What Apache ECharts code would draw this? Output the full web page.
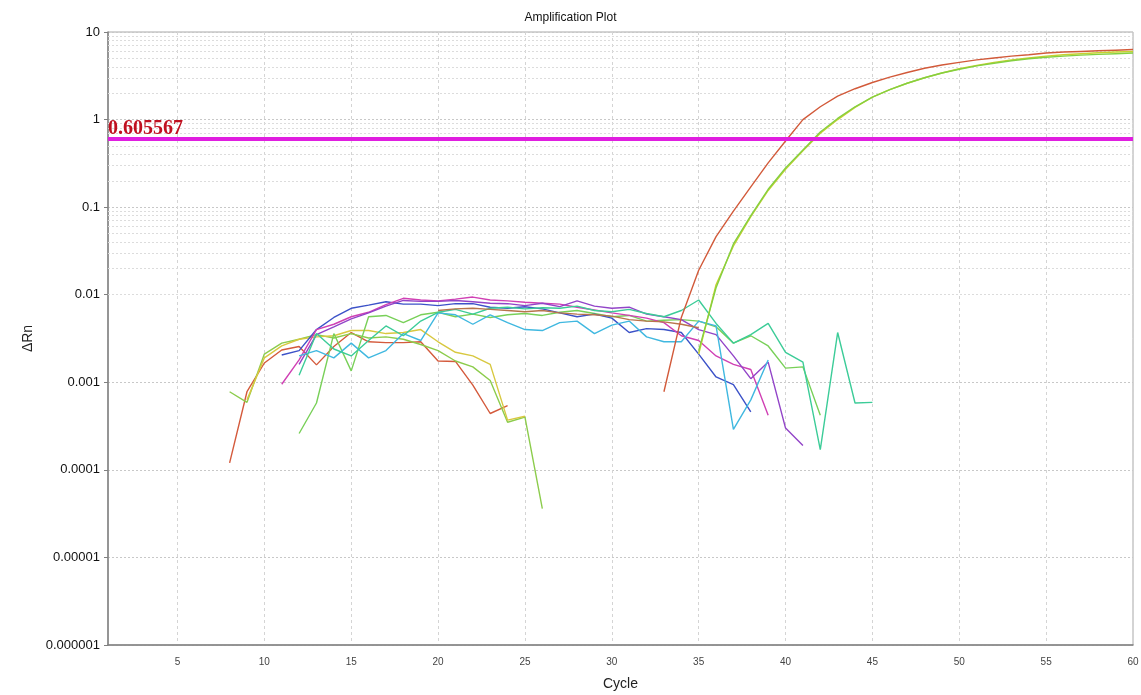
<!DOCTYPE html>
<html>
<head>
<meta charset="utf-8">
<title>Amplification Plot</title>
<script src="https://cdn.jsdelivr.net/npm/echarts@6/dist/echarts.min.js"></script>
<style>
html, body { margin: 0; padding: 0; background: #ffffff; }
#plot { width: 1141px; height: 695px; }
</style>
</head>
<body>
<div id="plot"></div>
<script>
// x ticks and y tick labels
var cycleTicks = [5, 10, 15, 20, 25, 30, 35, 40, 45, 50, 55, 60];
var yTickLabels = ["0.000001", "0.00001", "0.0001", "0.001", "0.01", "0.1", "1", "10"]; // 1e-6 .. 10
var threshold = 0.605567;

// each well: first cycle + delta Rn per cycle
var redEarlyStart = 8;
var redEarly = [1.2e-4, 7.8e-4, 1.66e-3, 2.34e-3, 2.56e-3, 1.58e-3, 2.56e-3, 3.7e-3, 2.9e-3, 2.84e-3,
  2.84e-3, 2.9e-3, 1.75e-3, 1.73e-3, 9.3e-4, 4.4e-4, 5.4e-4];

var greenEarlyStart = 8;
var greenEarly = [7.8e-4, 5.9e-4, 2.1e-3, 2.8e-3, 3.1e-3, 3.5e-3, 3.2e-3, 3.6e-3, 3.2e-3, 3.3e-3,
  3.1e-3, 2.7e-3, 2.3e-3, 1.75e-3, 1.5e-3, 1.05e-3, 3.5e-4, 4.0e-4, 3.6e-5];

var yellowEarlyStart = 9;
var yellowEarly = [6.3e-4, 1.9e-3, 2.6e-3, 3.1e-3, 3.3e-3, 3.4e-3, 3.9e-3, 3.9e-3, 3.6e-3, 3.7e-3,
  4.0e-3, 2.9e-3, 2.2e-3, 2.0e-3, 1.6e-3, 3.7e-4, 4.1e-4];

var greenMidStart = 12;
var greenMid = [2.6e-4, 5.8e-4, 3.6e-3, 1.35e-3, 5.6e-3, 5.8e-3, 4.8e-3, 5.9e-3, 6.3e-3, 5.6e-3,
  6.0e-3, 5.5e-3, 5.9e-3, 6.1e-3, 5.8e-3, 6.3e-3, 6.6e-3, 6.1e-3, 5.6e-3, 5.8e-3,
  5.0e-3, 5.1e-3, 5.2e-3, 5.0e-3, 4.3e-3, 2.8e-3, 3.4e-3, 2.6e-3, 1.45e-3, 1.5e-3, 4.2e-4];

var blueStart = 11;
var blue = [2.05e-3, 2.3e-3, 4.0e-3, 5.5e-3, 7.0e-3, 7.6e-3, 8.3e-3, 7.8e-3, 7.8e-3, 7.5e-3,
  7.9e-3, 7.9e-3, 7.2e-3, 7.0e-3, 7.3e-3, 6.9e-3, 6.2e-3, 5.6e-3, 6.0e-3, 5.4e-3,
  3.7e-3, 4.1e-3, 4.0e-3, 3.7e-3, 2.1e-3, 1.15e-3, 9.4e-4, 4.6e-4];

var magentaStart = 11;
var magenta = [9.5e-4, 1.8e-3, 4.0e-3, 4.6e-3, 5.6e-3, 6.3e-3, 7.7e-3, 9.1e-3, 8.7e-3, 8.5e-3,
  8.9e-3, 9.4e-3, 8.7e-3, 8.5e-3, 8.2e-3, 8.0e-3, 7.8e-3, 7.2e-3, 6.7e-3, 6.2e-3,
  5.8e-3, 5.4e-3, 4.8e-3, 3.4e-3, 3.0e-3, 2.0e-3, 1.6e-3, 1.4e-3, 4.2e-4];

var purpleStart = 12;
var purple = [1.6e-3, 3.5e-3, 4.3e-3, 5.3e-3, 6.2e-3, 7.4e-3, 8.6e-3, 8.4e-3, 8.4e-3, 8.6e-3,
  8.3e-3, 8.0e-3, 7.9e-3, 7.5e-3, 8.0e-3, 7.3e-3, 8.5e-3, 7.4e-3, 7.0e-3, 7.2e-3,
  6.0e-3, 5.6e-3, 5.2e-3, 4.0e-3, 3.5e-3, 2.0e-3, 1.1e-3, 1.7e-3, 3.0e-4, 1.9e-4];

var cyanStart = 12;
var cyan = [2.0e-3, 2.3e-3, 1.9e-3, 2.8e-3, 1.9e-3, 2.3e-3, 3.6e-3, 3.0e-3, 6.2e-3, 5.9e-3,
  4.6e-3, 5.9e-3, 4.8e-3, 4.0e-3, 3.9e-3, 4.8e-3, 5.0e-3, 3.6e-3, 4.5e-3, 5.0e-3,
  3.3e-3, 2.9e-3, 2.9e-3, 5.0e-3, 4.4e-3, 2.9e-4, 6.3e-4, 1.8e-3];

var tealStart = 12;
var teal = [1.2e-3, 3.6e-3, 2.4e-3, 2.0e-3, 3.0e-3, 4.4e-3, 3.4e-3, 5.0e-3, 6.3e-3, 6.8e-3,
  6.0e-3, 7.0e-3, 7.2e-3, 6.9e-3, 7.1e-3, 7.0e-3, 7.4e-3, 6.6e-3, 6.4e-3, 6.8e-3,
  6.1e-3, 5.6e-3, 6.6e-3, 8.7e-3, 4.7e-3, 2.8e-3, 3.5e-3, 4.7e-3, 2.2e-3, 1.7e-3,
  1.7e-4, 3.7e-3, 5.8e-4, 5.9e-4];

var brownStart = 20;
var brown = [6.6e-3, 6.9e-3, 7.0e-3, 6.8e-3, 6.6e-3, 6.4e-3, 6.6e-3, 6.2e-3, 6.0e-3, 5.9e-3,
  5.7e-3, 5.2e-3, 5.0e-3, 4.9e-3, 4.6e-3, 4.2e-3];

var redAmpStart = 33;
var redAmp = [7.8e-4, 5.5e-3, 0.019, 0.046, 0.09, 0.17, 0.32, 0.57, 1.0, 1.4,
  1.85, 2.25, 2.65, 3.05, 3.45, 3.85, 4.2, 4.5, 4.8, 5.05,
  5.3, 5.5, 5.75, 5.9, 6.0, 6.1, 6.2, 6.3];

var yellowAmpStart = 35;
var yellowAmp = [2.1e-3, 0.013, 0.036, 0.078, 0.155, 0.27, 0.44, 0.7, 1.0, 1.38,
  1.8, 2.2, 2.6, 3.0, 3.4, 3.8, 4.15, 4.5, 4.8, 5.05,
  5.3, 5.5, 5.65, 5.8, 5.9, 6.0];

var greenAmpStart = 35;
var greenAmp = [2.3e-3, 0.012, 0.038, 0.08, 0.16, 0.28, 0.45, 0.72, 1.03, 1.4,
  1.8, 2.2, 2.6, 3.0, 3.4, 3.75, 4.1, 4.4, 4.7, 4.95,
  5.15, 5.3, 5.45, 5.55, 5.65, 5.75];

var wells = [
  { name: "A1", start: redEarlyStart, values: redEarly, color: "#d45a3c" },
  { name: "A2", start: greenEarlyStart, values: greenEarly, color: "#8ccc4c" },
  { name: "A3", start: yellowEarlyStart, values: yellowEarly, color: "#d8c840" },
  { name: "A4", start: greenMidStart, values: greenMid, color: "#78d058" },
  { name: "B1", start: blueStart, values: blue, color: "#3c52c8" },
  { name: "B2", start: magentaStart, values: magenta, color: "#d040b4" },
  { name: "B3", start: purpleStart, values: purple, color: "#9244c8" },
  { name: "B4", start: cyanStart, values: cyan, color: "#40b8e0" },
  { name: "C1", start: tealStart, values: teal, color: "#3ccc98" },
  { name: "C2", start: brownStart, values: brown, color: "#b8744c" },
  { name: "D1", start: redAmpStart, values: redAmp, color: "#d25a3a" },
  { name: "D2", start: yellowAmpStart, values: yellowAmp, color: "#c8d030" },
  { name: "D3", start: greenAmpStart, values: greenAmp, color: "#84d040" }
];

// log minor grid at 2..9 of each decade
var minorGrid = [];
for (var k = -6; k <= 0; k++) {
  for (var m = 2; m <= 9; m++) {
    minorGrid.push({ yAxis: m * Math.pow(10, k) });
  }
}

var series = [];
series.push({
  name: "grid",
  type: "line",
  data: [],
  silent: true,
  z: 1,
  markLine: {
    silent: true,
    z: 1,
    symbol: "none",
    label: { show: false },
    lineStyle: { color: "#dcdcdc", type: [2, 2], width: 1 },
    data: minorGrid
  }
});

wells.forEach(function (w) {
  var pts = [];
  for (var i = 0; i < w.values.length; i++) {
    pts.push([w.start + i, w.values[i]]);
  }
  series.push({
    name: w.name,
    type: "line",
    data: pts,
    showSymbol: false,
    symbol: "none",
    z: 3,
    lineStyle: { color: w.color, width: 1.4 },
    itemStyle: { color: w.color }
  });
});

series.push({
  name: "threshold",
  type: "line",
  data: [],
  z: 5,
  markLine: {
    silent: true,
    z: 5,
    symbol: "none",
    lineStyle: { color: "#e01ee0", type: "solid", width: 4 },
    label: {
      show: true,
      position: "insideStartTop",
      distance: [0, 0],
      formatter: "0.605567",
      color: "#c01020",
      fontFamily: "Liberation Serif",
      fontWeight: "bold",
      fontSize: 20
    },
    data: [{ yAxis: threshold }]
  }
});

var chart = echarts.init(document.getElementById("plot"));
chart.setOption({
  backgroundColor: "#ffffff",
  animation: false,
  textStyle: { fontFamily: "Liberation Sans" },
  title: {
    text: "Amplification Plot",
    left: "center",
    top: 7,
    textStyle: { fontSize: 12, fontWeight: "normal", color: "#111", fontFamily: "Liberation Sans" }
  },
  grid: {
    left: 108,
    right: 8,
    top: 32,
    bottom: 50,
    outerBoundsMode: "none",
    show: true,
    borderColor: "#a8a8a8",
    borderWidth: 1
  },
  xAxis: {
    type: "value",
    min: 1,
    max: 60,
    name: "Cycle",
    nameLocation: "middle",
    nameGap: 32,
    nameTextStyle: { fontSize: 14, color: "#222" },
    axisLine: { lineStyle: { color: "#808080", width: 1.5 } },
    axisTick: { show: false, customValues: cycleTicks },
    axisLabel: { customValues: cycleTicks, fontSize: 10, color: "#444", margin: 12 },
    splitLine: { show: true, lineStyle: { color: "#d4d4d4", type: [3, 3] } }
  },
  yAxis: {
    type: "log",
    logBase: 10,
    min: 0.000001,
    max: 10,
    interval: 1,
    name: "ΔRn",
    nameLocation: "middle",
    nameGap: 70,
    nameTextStyle: { fontSize: 14, color: "#222" },
    axisLine: { show: true, lineStyle: { color: "#808080", width: 1.5 } },
    axisTick: { show: true, length: 4, lineStyle: { color: "#808080" } },
    axisLabel: {
      fontSize: 13,
      color: "#111",
      margin: 8,
      formatter: function (v) {
        var idx = Math.round(Math.log10(v)) + 6;
        return yTickLabels[idx] !== undefined ? yTickLabels[idx] : "";
      }
    },
    splitLine: { show: true, lineStyle: { color: "#c8c8c8", type: [2, 2] } },
    minorTick: { show: false },
    minorSplitLine: { show: false }
  },
  series: series
});
</script>
</body>
</html>
